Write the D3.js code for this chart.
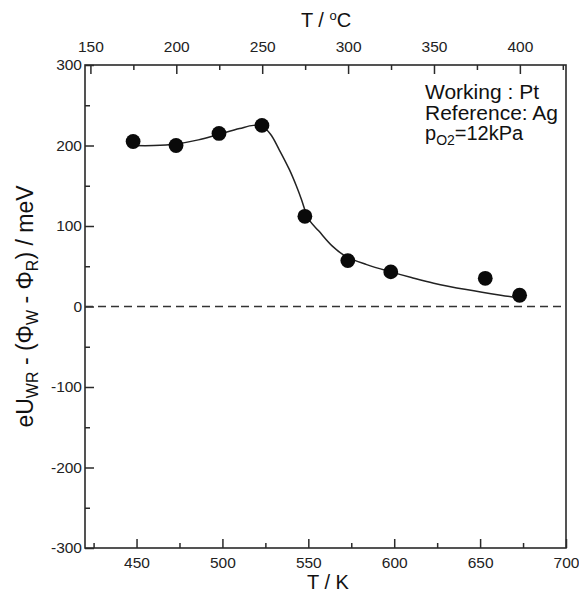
<!DOCTYPE html>
<html>
<head>
<meta charset="utf-8">
<script src="https://cdn.jsdelivr.net/npm/d3@7"></script>
<style>
  html, body { margin: 0; padding: 0; background: #fff; }
  svg { display: block; font-family: "Liberation Sans", Arial, sans-serif; }
</style>
</head>
<body>
<svg id="chart" width="579" height="595"></svg>
<script>
// ---- data ----
const pointT = [448, 473, 498, 523, 548, 573, 598, 653, 673];          // K
const pointU = [205, 200, 215, 225, 112, 57, 43, 35, 14];              // meV
const fitT = [448, 460, 473, 486, 498, 510, 518, 523, 528, 533, 539, 543, 546, 548.5, 551, 556, 564, 572, 584, 598, 610, 623, 642, 662, 672];
const fitU = [200, 200, 202, 207, 214, 221, 225, 224, 214, 195, 170, 150, 133, 117, 106, 94, 75, 62, 52, 43, 36, 29, 21, 14, 11];
const xTicksK = [450, 500, 550, 600, 650, 700];
const xMinorK = [425, 475, 525, 575, 625, 675];
const xTicksC = [150, 200, 250, 300, 350, 400];
const xMinorC = [175, 225, 275, 325, 375, 425];
const yTicks = [-300, -200, -100, 0, 100, 200, 300];
const yMinor = [-250, -150, -50, 50, 150, 250];
const annotation = ["Working : Pt", "Reference: Ag"];

// ---- layout ----
const L = 85, R = 566, T = 65, B = 548;
const svg = d3.select("#chart");
const x = d3.scaleLinear().domain([420, 700]).range([L, R]);
const xC = d3.scaleLinear().domain([420 - 273.15, 700 - 273.15]).range([L, R]);
const y = d3.scaleLinear().domain([-300, 300]).range([B, T]);
const axisColor = "#2a2a2a";
const fmt = d => String(d);   // plain hyphen for negatives

function styleAxis(g) {
  g.select(".domain").remove();
  g.selectAll("line").attr("stroke", axisColor).attr("stroke-width", 1.5);
  g.selectAll("text").attr("fill", "#222").attr("font-size", 15.5)
    .attr("font-family", "Liberation Sans, Arial, sans-serif");
}

// bottom axis
svg.append("g").attr("transform", `translate(0,${B})`)
  .call(d3.axisBottom(x).tickValues(xTicksK).tickSize(-9).tickPadding(9).tickFormat(fmt))
  .call(styleAxis);
svg.append("g").attr("transform", `translate(0,${B})`)
  .call(d3.axisBottom(x).tickValues(xMinorK).tickSize(-5).tickFormat(""))
  .call(styleAxis);
// top axis (Celsius)
svg.append("g").attr("transform", `translate(0,${T})`)
  .call(d3.axisTop(xC).tickValues(xTicksC).tickSize(-9).tickPadding(13).tickFormat(fmt))
  .call(styleAxis);
svg.append("g").attr("transform", `translate(0,${T})`)
  .call(d3.axisTop(xC).tickValues(xMinorC).tickSize(-5).tickFormat(""))
  .call(styleAxis);
// left axis
svg.append("g").attr("transform", `translate(${L},0)`)
  .call(d3.axisLeft(y).tickValues(yTicks).tickSize(-9).tickPadding(3).tickFormat(fmt))
  .call(styleAxis);
svg.append("g").attr("transform", `translate(${L},0)`)
  .call(d3.axisLeft(y).tickValues(yMinor).tickSize(-5).tickFormat(""))
  .call(styleAxis);

// frame
svg.append("rect").attr("x", L).attr("y", T).attr("width", R - L).attr("height", B - T)
  .attr("fill", "none").attr("stroke", axisColor).attr("stroke-width", 1.6);

// zero dashed line
svg.append("line").attr("x1", L).attr("x2", R).attr("y1", y(0)).attr("y2", y(0))
  .attr("stroke", "#333").attr("stroke-width", 1.5).attr("stroke-dasharray", "8,5");

// fit curve
const fit = fitT.map((t, i) => [t, fitU[i]]);
svg.append("path").datum(fit)
  .attr("d", d3.line().x(d => x(d[0])).y(d => y(d[1])).curve(d3.curveCatmullRom.alpha(0.5)))
  .attr("fill", "none").attr("stroke", "#222").attr("stroke-width", 1.5);

// points
svg.append("g").selectAll("circle").data(pointT.map((t, i) => [t, pointU[i]])).join("circle")
  .attr("cx", d => x(d[0])).attr("cy", d => y(d[1])).attr("r", 7.4).attr("fill", "#0a0a0a");

// annotation
const ann = svg.append("g").attr("font-size", 20).attr("fill", "#111");
annotation.forEach((s, i) => {
  ann.append("text").attr("x", 425).attr("y", 99 + i * 21).text(s)
    .attr("textLength", i === 0 ? 114 : 133).attr("lengthAdjust", "spacingAndGlyphs");
});
const p = ann.append("text").attr("x", 425).attr("y", 140);
p.append("tspan").text("p");
p.append("tspan").text("O2").attr("font-size", 14).attr("dy", 5);
p.append("tspan").text("=12kPa").attr("dy", -5);

// axis titles
svg.append("text").attr("x", 328).attr("y", 589).attr("text-anchor", "middle")
  .attr("font-size", 20).attr("fill", "#111").text("T / K");
const tc = svg.append("text").attr("x", 326).attr("y", 27).attr("text-anchor", "middle")
  .attr("font-size", 20).attr("fill", "#111");
tc.append("tspan").text("T / ");
tc.append("tspan").text("o").attr("font-size", 13).attr("dy", -7);
tc.append("tspan").text("C").attr("dy", 7);

const yt = svg.append("text").attr("transform", `translate(33,${(T + B) / 2}) rotate(-90)`)
  .attr("text-anchor", "middle").attr("font-size", 23).attr("fill", "#111");
yt.append("tspan").text("eU");
yt.append("tspan").text("WR").attr("font-size", 16).attr("dy", 5);
yt.append("tspan").text(" - (Φ").attr("dy", -5);
yt.append("tspan").text("W").attr("font-size", 16).attr("dy", 5);
yt.append("tspan").text(" - Φ").attr("dy", -5);
yt.append("tspan").text("R").attr("font-size", 16).attr("dy", 5);
yt.append("tspan").text(") / meV").attr("dy", -5);
</script>
</body>
</html>
